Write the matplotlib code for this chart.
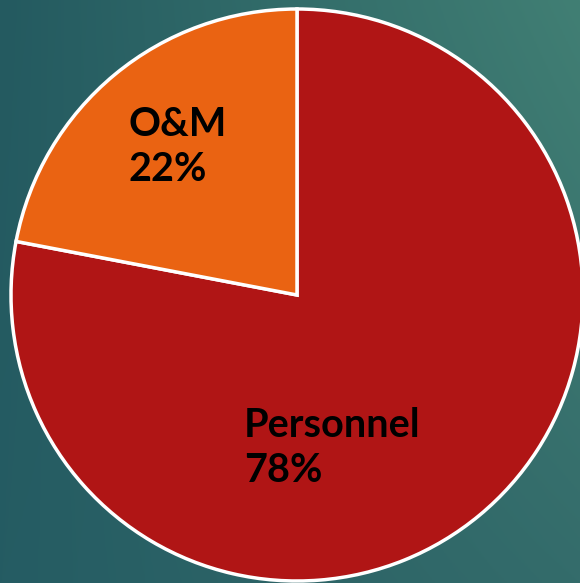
import numpy as np
import matplotlib.pyplot as plt
from matplotlib.colors import to_rgb

categories = ["Personnel", "O&M"]
shares = [78, 22]
colors = ["#B01515", "#EA6312"]

W, H, dpi = 580, 583, 100
cx, cy, R = 297, 295, 286  # pie centre / radius in pixels

fig = plt.figure(figsize=(W / dpi, H / dpi), dpi=dpi)

# background gradient (corner colours)
bg = fig.add_axes([0, 0, 1, 1])
tl, tr = np.array(to_rgb("#245a60")), np.array(to_rgb("#417f74"))
bl, br = np.array(to_rgb("#255c63")), np.array(to_rgb("#346c6b"))
u = np.linspace(0, 1, 200)[None, :, None]
v = np.linspace(0, 1, 200)[:, None, None]
img = (1 - v) * ((1 - u) * tl + u * tr) + v * ((1 - u) * bl + u * br)
bg.imshow(img, aspect="auto", extent=[0, 1, 0, 1])
bg.axis("off")

ax = fig.add_axes([0, 0, 1, 1])
ax.pie(shares, colors=colors, startangle=90, counterclock=False, radius=1,
       wedgeprops=dict(edgecolor="white", linewidth=2.5))
ax.set_xlim(-cx / R, (W - cx) / R)
ax.set_ylim(-(H - cy) / R, cy / R)
ax.set_aspect("auto")
ax.axis("off")

def px(x, y):
    return (x - cx) / R, (cy - y) / R

font = dict(family=["Lato", "DejaVu Sans"], fontweight="bold", fontsize=28.5,
            color="black", ha="left", va="top", linespacing=1.26)
ax.text(*px(128, 106), f"{categories[1]}\n{shares[1]}%", **font)
ax.text(*px(244, 407), f"{categories[0]}\n{shares[0]}%", **font)

fig.savefig("out.png", dpi=dpi)
